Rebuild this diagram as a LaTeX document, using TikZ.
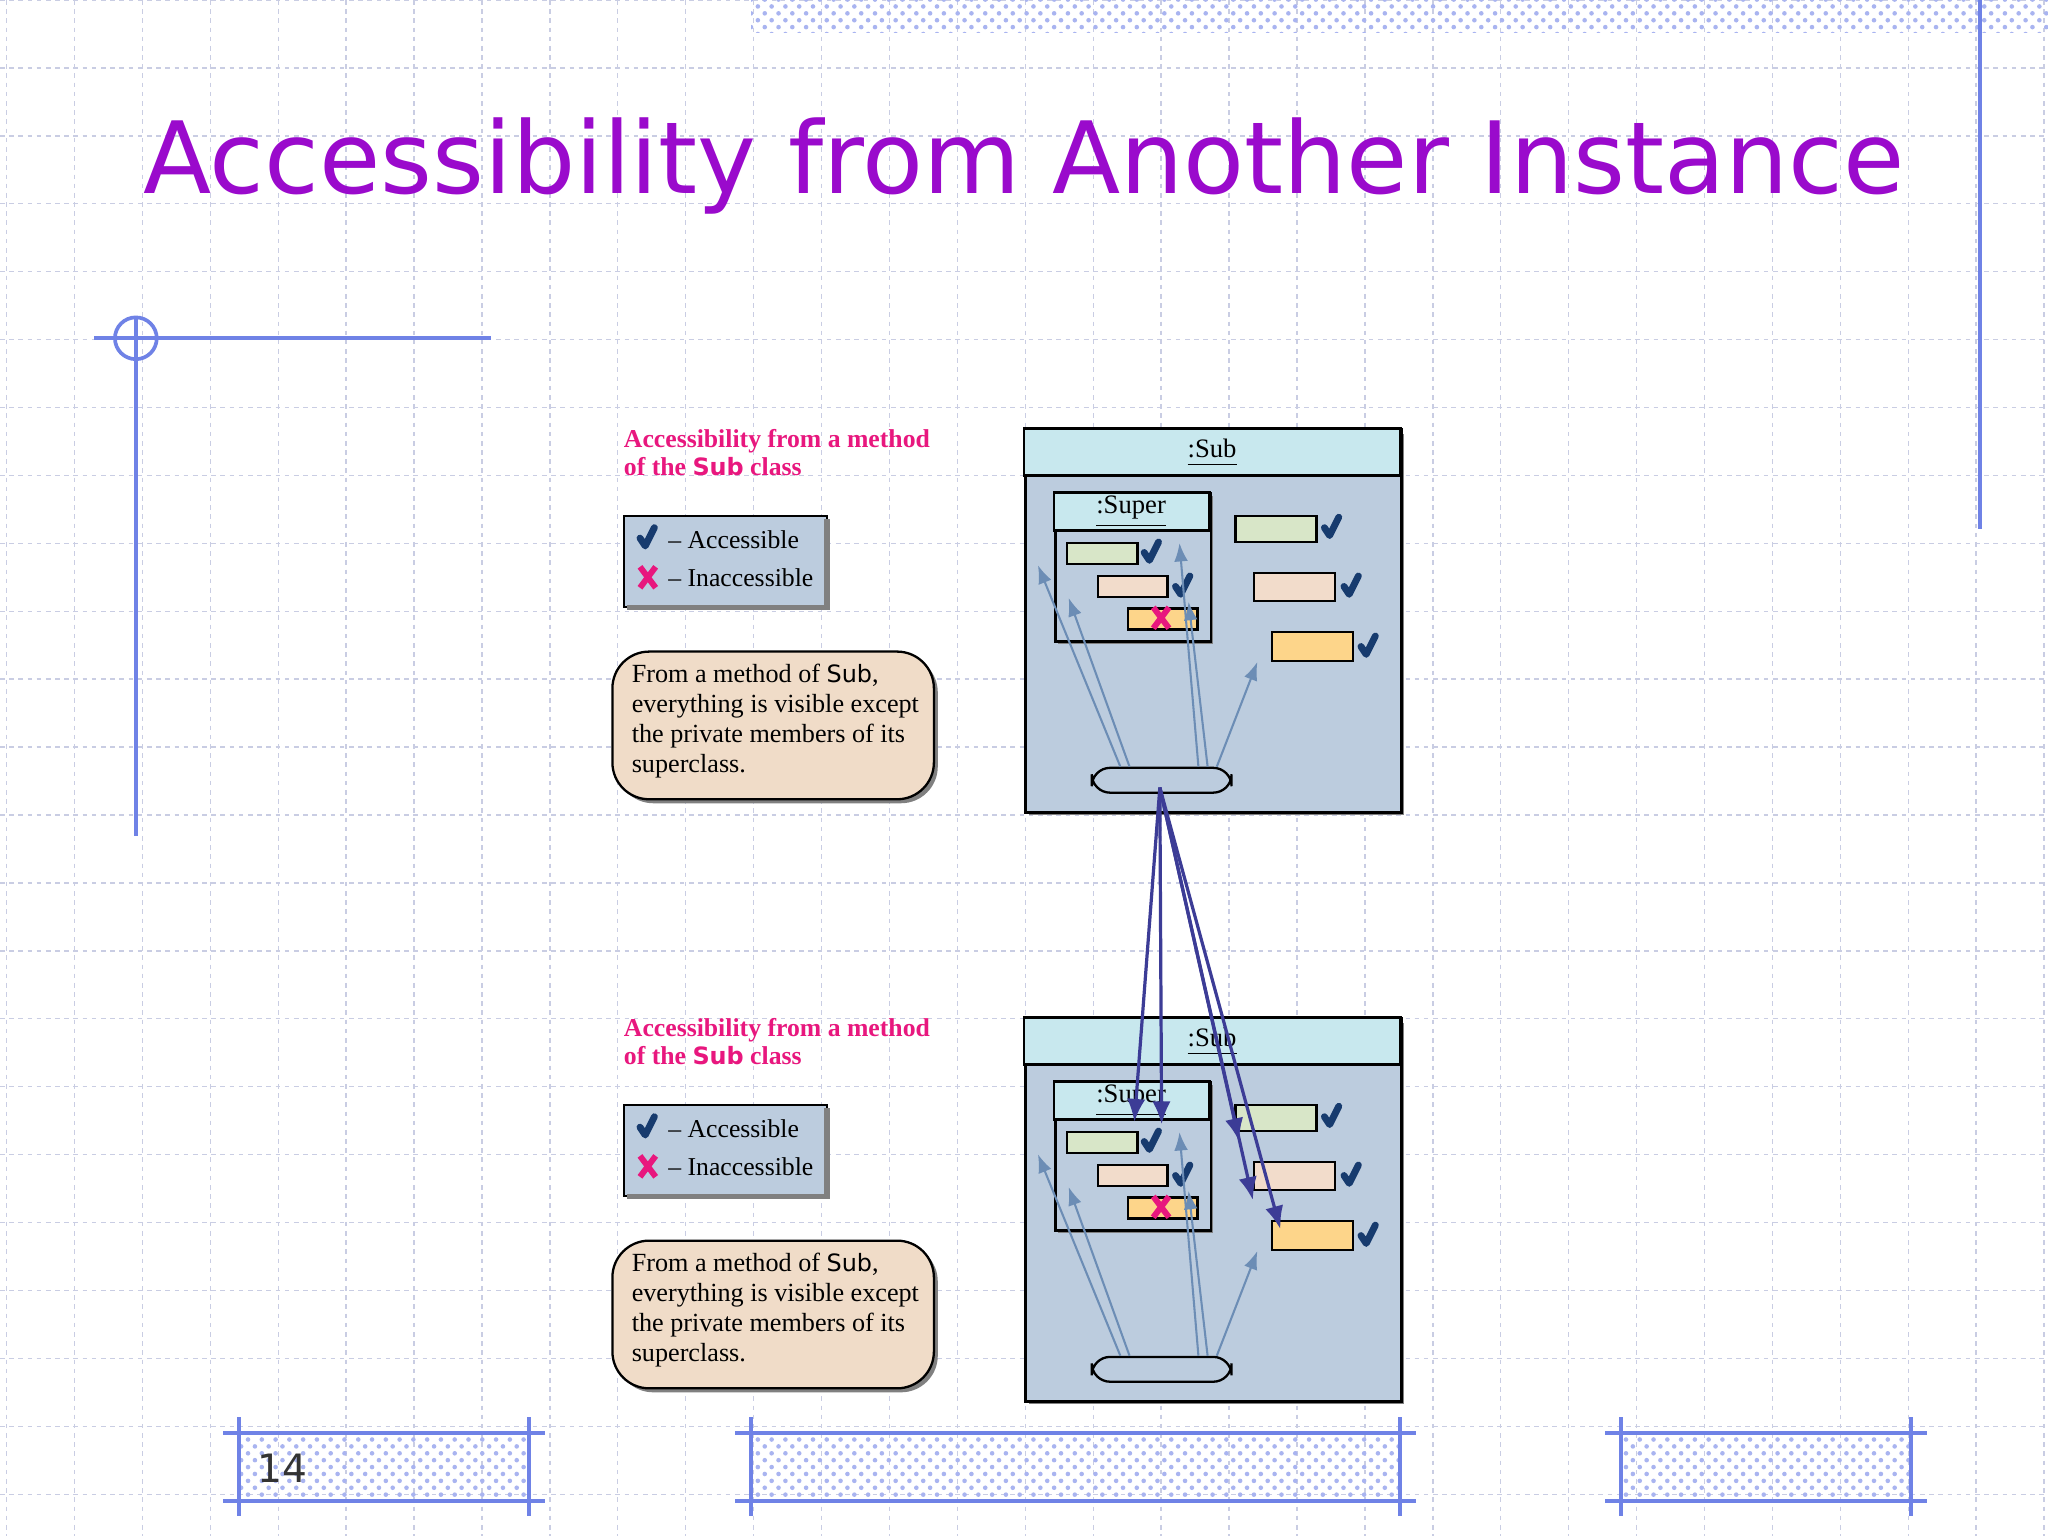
\documentclass[tikz,border=0pt]{standalone}
\usepackage{fontspec}
\setmainfont{Liberation Serif}
\newfontfamily\sansf{DejaVu Sans}
\usetikzlibrary{arrows.meta,patterns,calc}
\definecolor{ttl}{HTML}{9A0ACC}
\definecolor{pinkt}{HTML}{E8177E}
\definecolor{hdr}{HTML}{C8E8EE}
\definecolor{bodyc}{HTML}{BCCCDE}
\definecolor{fgreen}{HTML}{D8E6C8}
\definecolor{fpeach}{HTML}{F2DCCB}
\definecolor{forange}{HTML}{FDD58A}
\definecolor{chk}{HTML}{173B6E}
\definecolor{thinc}{HTML}{6C8DB5}
\definecolor{big}{HTML}{3C3C96}
\definecolor{note}{HTML}{F0DCC8}
\definecolor{deco}{HTML}{6F82E6}
\definecolor{gridc}{HTML}{C9CDE3}
\tikzset{
 fld/.style={draw=black,line width=0.5pt,minimum height=#1,inner sep=0pt,anchor=north west},
 tarr/.style={draw=thinc,line width=0.45pt,-{Latex[length=4pt,width=3pt]}},
 barr/.style={draw=big,line width=0.7pt,-{Latex[length=5pt,width=4pt]}},
 txt/.style={font=\fontsize{5.6}{6.6}\selectfont,inner sep=0pt}
}
\newcommand\chkm[1]{\draw[chk,line width=1.5pt,line cap=round,line join=round] ($(#1)+(-5,0)$) -- ($(#1)+(-1,6)$) -- ($(#1)+(6,-8)$);}
\newcommand\xm[1]{\draw[pinkt,line width=1.3pt] ($(#1)+(-6,-8)$) -- ($(#1)+(6,8)$) ($(#1)+(6,-8)$) -- ($(#1)+(-6,8)$);}
\newcommand\drawpanel[2]{%
\begin{scope}[shift={(0,#1)}]
 \node[txt,anchor=north west,text=pinkt,align=left,font=\fontsize{5.6}{6.1}\selectfont\bfseries] (#2t) at (477,328) {Accessibility from a method\\of the {\sansf\fontsize{5.2}{6}\selectfont Sub} class};
 \node[draw=black,fill=bodyc,line width=0.5pt,minimum width=1.55cm,minimum height=0.70cm,anchor=north west,inner sep=0pt] (#2leg) at (477,394) {};
 \draw[gray,line width=1.2pt] (480,465) -- (633,465) -- (633,397);
 \node[txt,anchor=west] (#2la) at (511,413) {-- Accessible};
 \node[txt,anchor=west] (#2li) at (511,442) {-- Inaccessible};
 \coordinate (#2lc) at (495,412); \chkm{#2lc}
 \coordinate (#2lx) at (496,442); \xm{#2lx}
 \fill[gray,rounded corners=8pt] (472,502) rectangle (718,615);
 \node[draw=black,fill=note,rounded corners=8pt,line width=0.5pt,minimum width=2.46cm,minimum height=1.13cm,anchor=north west,inner sep=0pt] (#2note) at (468,498) {};
 \node[txt,anchor=north west,align=left,font=\fontsize{5.7}{6.5}\selectfont] at (483,508) {From a method of {\sansf\fontsize{5.2}{6}\selectfont Sub},\\everything is visible except\\the private members of its\\superclass.};
 \fill[gray] (788,332) rectangle (1075,624);
 \node[draw=black,fill=bodyc,line width=0.6pt,minimum width=2.88cm,minimum height=2.93cm,anchor=north west,inner sep=0pt] (#2sub) at (784,328) {};
 \draw[black,line width=0.6pt,fill=hdr] (784,328) rectangle (1072,364);
 \node[txt,font=\fontsize{5.8}{7}\selectfont] (#2subt) at (928,347) {\underline{:Sub}};
 \fill[gray] (810,380) rectangle (929,493);
 \node[draw=black,fill=bodyc,line width=0.6pt,minimum width=1.19cm,minimum height=1.13cm,anchor=north west,inner sep=0pt] (#2sup) at (807,377) {};
 \draw[black,line width=0.6pt,fill=hdr] (807,377) rectangle (926,406);
 \node[txt,font=\fontsize{5.8}{7}\selectfont] (#2supt) at (866,392) {\underline{:Super}};
 \node[fld=0.16cm,fill=fgreen,minimum width=0.54cm] (#2f1) at (816,415) {};
 \node[fld=0.16cm,fill=fpeach,minimum width=0.53cm] (#2f2) at (840,440) {};
 \node[fld=0.16cm,fill=forange,minimum width=0.53cm] (#2f3) at (863,465) {};
 \node[fld=0.20cm,fill=fgreen,minimum width=0.62cm] (#2g1) at (945,394) {};
 \node[fld=0.21cm,fill=fpeach,minimum width=0.62cm] (#2g2) at (959,438) {};
 \node[fld=0.22cm,fill=forange,minimum width=0.62cm] (#2g3) at (973,483) {};
 \coordinate (#2c1) at (881,423); \chkm{#2c1}
 \coordinate (#2c2) at (905,449); \chkm{#2c2}
 \coordinate (#2x3) at (889,473); \xm{#2x3}
 \coordinate (#2c4) at (1019,404); \chkm{#2c4}
 \coordinate (#2c5) at (1034,449); \chkm{#2c5}
 \coordinate (#2c6) at (1047,495); \chkm{#2c6}
 \node[draw=black,fill=bodyc,rounded corners=4pt,line width=0.5pt,minimum width=1.07cm,minimum height=0.19cm,anchor=north west,inner sep=0pt] (#2m) at (835,587) {};
 \draw[tarr] ([xshift=-9]#2m.north) -- ([xshift=-14]#2f1.south);
 \draw[tarr] ([xshift=-7]#2m.north) -- ([xshift=-14]#2f2.south);
 \draw[tarr] ([xshift=8]#2m.north) -- ([xshift=-21]#2g1.south);
 \draw[tarr] ([xshift=10]#2m.north) -- ([xshift=-23]#2g2.south);
 \draw[tarr] ([xshift=12]#2m.north) -- ([xshift=-12]#2g3.south);
\end{scope}}
\begin{document}
\begin{tikzpicture}[x=0.01cm,y=-0.01cm]
\fill[white] (0,0) rectangle (1568,1176);
\useasboundingbox (0,0) rectangle (1568,1176);
\foreach \i in {0,...,30} \draw[gridc,line width=0.3pt,dash pattern=on 1pt off 1pt] (\i*52+5,0) -- (\i*52+5,1176);
\foreach \i in {0,...,23} \draw[gridc,line width=0.3pt,dash pattern=on 1pt off 1pt] (0,\i*52) -- (1568,\i*52);
\fill[pattern=crosshatch dots,pattern color=deco!60] (575,0) rectangle (1568,25);
\draw[deco,line width=0.8pt] (1516,0) -- (1516,405);
\draw[deco,line width=0.8pt] (72,259) -- (376,259) (104,242) -- (104,640);
\draw[deco,line width=0.8pt] (104,259) circle (16);
\node[text=ttl,inner sep=0pt] (title) at (784,127) {\resizebox{13.48cm}{!}{\sansf Accessibility from Another Instance}};
\drawpanel{0}{a}
\drawpanel{451}{b}
\coordinate (src) at (888,603);
\draw[barr] (src) -- ([xshift=7,yshift=2]bf1.north);
\draw[barr] (src) -- ([xshift=5,yshift=4]bf1.east);
\draw[barr] (src) -- ([xshift=-8,yshift=-2]bg1.south);
\draw[barr] (src) -- ([xshift=-9,yshift=-2]bg2.south);
\draw[barr] (src) -- ([xshift=-7,yshift=-2]bg3.north);
\foreach \a/\b in {183/405,575/1072,1241/1463}{
 \fill[pattern=crosshatch dots,pattern color=deco!60] (\a,1097) rectangle (\b,1149);
 \draw[deco,line width=0.8pt] (\a-12,1097) -- (\b+12,1097) (\a-12,1149) -- (\b+12,1149) (\a,1085) -- (\a,1161) (\b,1085) -- (\b,1161);
}
\node[font=\sansf\fontsize{8.5}{10}\selectfont,text=black!80,inner sep=0pt] (pg) at (216,1124) {14};
\end{tikzpicture}
\end{document}
